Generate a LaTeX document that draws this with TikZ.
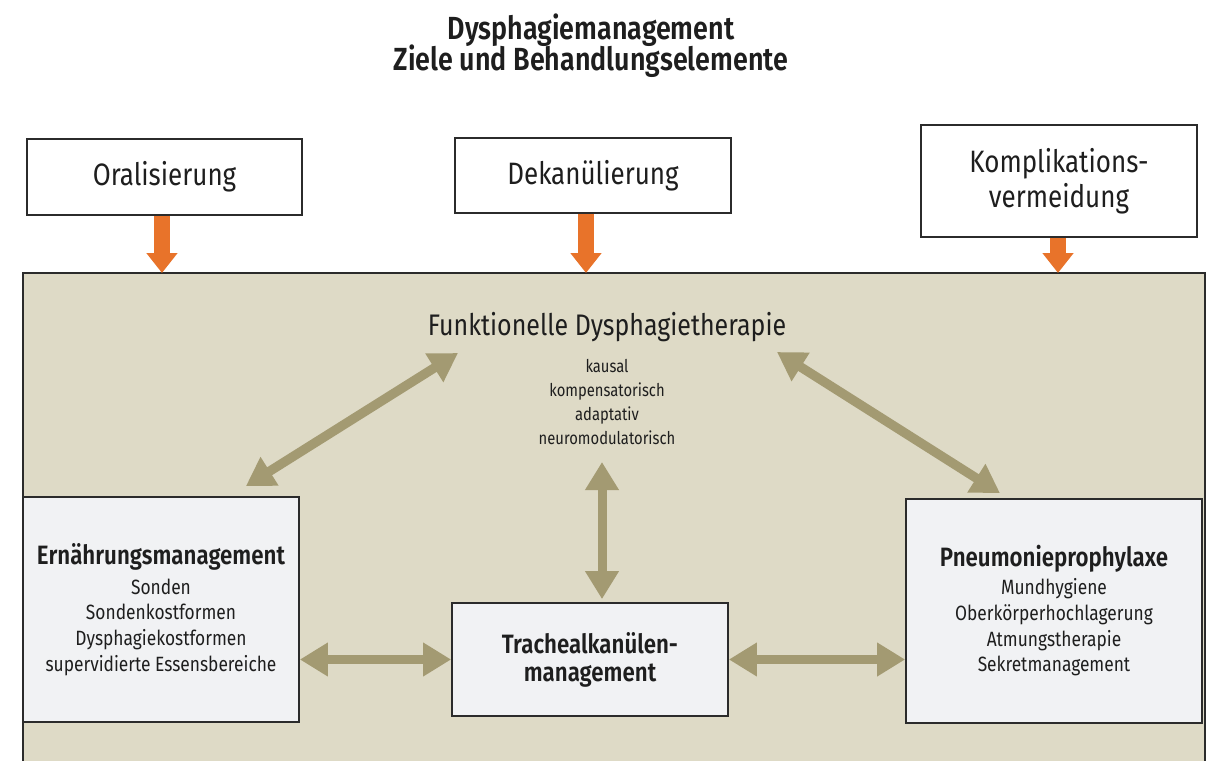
\documentclass[tikz,border=0pt]{standalone}
\usepackage{fontspec}
\setmainfont{Fira Sans}[BoldFont={* SemiBold}, FakeStretch=0.84]
\usetikzlibrary{arrows.meta}
\definecolor{bgbeige}{HTML}{DEDAC6}
\definecolor{olivearrow}{HTML}{A39A72}
\definecolor{orangearrow}{HTML}{E8732A}
\definecolor{boxfill}{HTML}{F1F2F4}
\definecolor{boxline}{HTML}{2B2B2B}
\definecolor{txt}{HTML}{1E1E1E}
\newcommand\dTitle{\fontsize{24}{23}\selectfont\bfseries\lineskiplimit=-30pt\relax}
\newcommand\dGoal{\fontsize{23.2}{26}\selectfont}
\newcommand\dTher{\fontsize{22.3}{24}\selectfont}
\newcommand\dHead{\fontsize{19.9}{21}\selectfont\bfseries}
\newcommand\dItem{\fontsize{15.5}{19.3}\selectfont}
\newcommand\dSmall{\fontsize{13.2}{18}\selectfont}
\begin{document}
\begin{tikzpicture}[x=0.75pt,y=-0.75pt,
  goalbox/.style={draw=boxline, line width=1.3pt, fill=white, inner sep=0pt, align=center, font=\dGoal, text=txt},
  lowbox/.style={draw=boxline, line width=1.3pt, fill=boxfill, inner sep=0pt, align=center, font=\dItem, text=txt},
  orangedown/.style={draw=orangearrow, line width=12pt, -{Triangle[width=22.5pt,length=15pt]}},
  biarrow/.style={draw=olivearrow, line width=6.75pt, {Triangle[width=24pt,length=21pt]}-{Triangle[width=24pt,length=21pt]}},
  plain/.style={inner sep=0pt, align=center, text=txt}
]
\useasboundingbox (0,0) rectangle (1215,761);
\fill[white] (0,0) rectangle (1215,761);
% big beige area
\fill[bgbeige] (23,273) rectangle (1205,775);
\draw[boxline, line width=1.3pt] (23,775) -- (23,273) -- (1205,273) -- (1205,775);
\coordinate (bigtop) at (0,273);

% title
\node[plain, font=\dTitle] (title) at (591,46) {Dysphagiemanagement\\Ziele und Behandlungselemente};

% goal boxes
\node[goalbox, minimum width=206.25pt, minimum height=57pt] (oral) at (164.5,177) {Oralisierung};
\node[goalbox, minimum width=207pt, minimum height=56.25pt] (dek) at (593,175.5) {Dekanülierung};
\node[goalbox, minimum width=207pt, minimum height=84pt] (kompl) at (1059,181) {Komplikations-\\vermeidung};

% orange arrows
\draw[orangedown] ([xshift=-1.9pt]oral.south) -- ([xshift=-1.9pt]oral.south |- bigtop);
\draw[orangedown] ([xshift=-5.25pt]dek.south) -- ([xshift=-5.25pt]dek.south |- bigtop);
\draw[orangedown] ([xshift=-0.75pt]kompl.south) -- ([xshift=-0.75pt]kompl.south |- bigtop);

% therapy
\node[plain, font=\dTher] (ther) at (607,327) {Funktionelle Dysphagietherapie};
\node[plain, font=\dSmall] (therlist) at (607,402) {kausal\\kompensatorisch\\adaptativ\\neuromodulatorisch};

% lower boxes
\node[lowbox, minimum width=207pt, minimum height=168.75pt] (ern) at (161,609.5)
  {{\dHead Ernährungsmanagement}\\[3pt]Sonden\\Sondenkostformen\\Dysphagiekostformen\\supervidierte Essensbereiche};
\node[lowbox, minimum width=207pt, minimum height=84.75pt, font=\dHead] (trach) at (590,659.5)
  {Trachealkanülen-\\management};
\node[lowbox, minimum width=222pt, minimum height=168pt] (pneu) at (1054,611)
  {{\dHead Pneumonieprophylaxe}\\[1.5pt]Mundhygiene\\Oberkörperhochlagerung\\Atmungstherapie\\Sekretmanagement};

% olive connectors
\coordinate (tl) at (458,353);
\coordinate (tr) at (777,352);
\coordinate (tb) at (602,462);
\draw[biarrow, line width=7pt] ([xshift=-40.5pt,yshift=7.5pt]ern.north east) -- (tl);
\draw[biarrow, line width=7pt] (tr) -- ([xshift=-40.5pt,yshift=3.75pt]pneu.north);
\draw[biarrow] (tb) -- ([xshift=9pt,yshift=2.25pt]trach.north);
\draw[biarrow] (ern.east |- trach.west) -- (trach.west);
\draw[biarrow] (trach.east) -- (trach.east -| pneu.west);
\end{tikzpicture}
\end{document}
